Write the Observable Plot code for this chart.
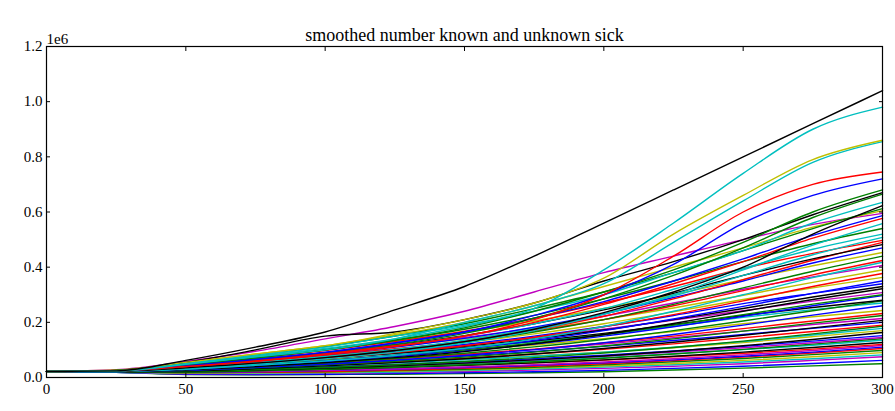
<!DOCTYPE html>
<html>
<head>
<meta charset="utf-8">
<script src="https://cdn.jsdelivr.net/npm/d3@7"></script>
<script src="https://cdn.jsdelivr.net/npm/@observablehq/plot@0.6"></script>
<style>
  html, body { margin: 0; padding: 0; background: #fff; }
  #chart { width: 895px; height: 411px; }
  #chart svg text { font-family: 'Liberation Serif', 'Times New Roman', serif; }
</style>
</head>
<body>
<div id="chart"></div>
<script>
// Chart text
const title = "smoothed number known and unknown sick";
const yOffsetLabel = "1e6";

// Tick values
const xTicks = [0, 50, 100, 150, 200, 250, 300];
const yTicks = [0.0, 0.2, 0.4, 0.6, 0.8, 1.0, 1.2];

const days = [0, 25, 50, 75, 100, 125, 150, 175, 200, 225, 250, 275, 300];

// Colour code of each series (matplotlib classic cycle letters)
const seriesColorCodes = [
  "k","c","y","c",
  "r","b","g","k","g","c","k","g","y","m","b","r","c","g","c","c","r","k","r","b","y","g","r","c","m",
  "y","r","y","b","b","k","k","m","g","b","k","g","c","b","y","r","g","m","k","b","r","g","c","y",
  "k","b","m","g","c","k","r","m","b","r","g","y","c","m","b","g"
];

// Series values, in millions, at the sample days
const seriesValues = [
  [0.022,0.024,0.062,0.110,0.165,0.245,0.330,0.440,0.560,0.680,0.800,0.920,1.040],
  [0.022,0.024,0.050,0.080,0.110,0.150,0.190,0.250,0.390,0.560,0.740,0.900,0.980],
  [0.022,0.025,0.055,0.085,0.115,0.160,0.210,0.270,0.360,0.520,0.660,0.790,0.860],
  [0.022,0.024,0.048,0.075,0.100,0.140,0.200,0.260,0.340,0.490,0.640,0.780,0.855],
  [0.022,0.024,0.040,0.060,0.085,0.115,0.150,0.210,0.300,0.440,0.600,0.700,0.745],
  [0.022,0.024,0.042,0.065,0.090,0.125,0.165,0.225,0.300,0.410,0.560,0.660,0.720],
  [0.022,0.025,0.045,0.070,0.100,0.135,0.180,0.240,0.310,0.390,0.490,0.600,0.680],
  [0.022,0.026,0.055,0.100,0.150,0.165,0.210,0.270,0.350,0.420,0.500,0.590,0.670],
  [0.022,0.024,0.040,0.062,0.088,0.120,0.160,0.215,0.285,0.370,0.470,0.580,0.665],
  [0.022,0.025,0.048,0.075,0.105,0.140,0.185,0.240,0.300,0.380,0.460,0.560,0.635],
  [0.022,0.023,0.035,0.052,0.072,0.098,0.130,0.175,0.235,0.310,0.400,0.520,0.623],
  [0.022,0.026,0.050,0.080,0.112,0.150,0.195,0.250,0.310,0.380,0.460,0.540,0.612],
  [0.022,0.027,0.055,0.085,0.115,0.155,0.200,0.260,0.330,0.400,0.470,0.545,0.605],
  [0.022,0.028,0.058,0.095,0.140,0.185,0.240,0.310,0.380,0.440,0.500,0.555,0.595],
  [0.022,0.024,0.042,0.066,0.092,0.125,0.165,0.215,0.275,0.350,0.430,0.515,0.587],
  [0.022,0.023,0.038,0.058,0.082,0.112,0.150,0.200,0.265,0.340,0.420,0.505,0.577],
  [0.022,0.022,0.032,0.048,0.068,0.092,0.125,0.170,0.230,0.300,0.390,0.480,0.558],
  [0.022,0.025,0.045,0.072,0.100,0.135,0.175,0.225,0.285,0.350,0.420,0.485,0.540],
  [0.022,0.024,0.040,0.062,0.086,0.115,0.150,0.195,0.250,0.320,0.395,0.465,0.520],
  [0.022,0.023,0.036,0.055,0.076,0.102,0.135,0.178,0.230,0.295,0.370,0.445,0.508],
  [0.022,0.025,0.046,0.072,0.098,0.130,0.168,0.215,0.270,0.330,0.395,0.450,0.497],
  [0.022,0.024,0.042,0.064,0.088,0.118,0.152,0.195,0.245,0.305,0.370,0.430,0.482],
  [0.022,0.023,0.034,0.052,0.074,0.100,0.132,0.172,0.222,0.285,0.355,0.425,0.490],
  [0.022,0.024,0.040,0.060,0.082,0.110,0.142,0.182,0.230,0.290,0.350,0.415,0.470],
  [0.022,0.026,0.050,0.076,0.102,0.132,0.165,0.205,0.250,0.300,0.355,0.405,0.453],
  [0.022,0.023,0.036,0.054,0.074,0.098,0.128,0.165,0.210,0.265,0.325,0.385,0.440],
  [0.022,0.024,0.040,0.060,0.080,0.104,0.132,0.168,0.210,0.260,0.315,0.372,0.424],
  [0.022,0.022,0.030,0.044,0.060,0.080,0.106,0.140,0.185,0.240,0.300,0.362,0.418],
  [0.022,0.025,0.045,0.068,0.090,0.115,0.145,0.180,0.222,0.270,0.320,0.365,0.406],
  [0.022,0.025,0.044,0.066,0.088,0.112,0.140,0.172,0.210,0.252,0.298,0.345,0.390],
  [0.022,0.023,0.034,0.050,0.068,0.090,0.115,0.146,0.184,0.228,0.278,0.330,0.377],
  [0.022,0.024,0.040,0.058,0.078,0.100,0.126,0.158,0.195,0.238,0.283,0.325,0.363],
  [0.022,0.022,0.030,0.044,0.060,0.080,0.104,0.134,0.170,0.212,0.258,0.305,0.350],
  [0.022,0.024,0.038,0.056,0.075,0.096,0.120,0.150,0.185,0.225,0.268,0.305,0.340],
  [0.022,0.023,0.036,0.053,0.070,0.090,0.113,0.140,0.172,0.210,0.250,0.292,0.330],
  [0.022,0.022,0.028,0.040,0.054,0.072,0.094,0.122,0.156,0.196,0.240,0.283,0.322],
  [0.022,0.024,0.040,0.058,0.076,0.096,0.118,0.145,0.175,0.208,0.242,0.277,0.308],
  [0.022,0.023,0.032,0.046,0.062,0.080,0.100,0.125,0.155,0.190,0.228,0.266,0.300],
  [0.022,0.022,0.030,0.043,0.058,0.075,0.096,0.121,0.150,0.184,0.222,0.260,0.297],
  [0.022,0.024,0.038,0.054,0.070,0.088,0.108,0.132,0.160,0.192,0.225,0.254,0.280],
  [0.022,0.022,0.028,0.040,0.053,0.069,0.088,0.111,0.138,0.170,0.205,0.242,0.278],
  [0.022,0.024,0.036,0.052,0.068,0.086,0.106,0.129,0.156,0.186,0.218,0.246,0.270],
  [0.022,0.022,0.026,0.036,0.048,0.062,0.080,0.101,0.126,0.156,0.190,0.226,0.260],
  [0.022,0.024,0.036,0.050,0.064,0.080,0.098,0.118,0.141,0.167,0.195,0.220,0.243],
  [0.022,0.023,0.030,0.042,0.054,0.068,0.084,0.103,0.125,0.150,0.177,0.205,0.232],
  [0.022,0.022,0.026,0.035,0.046,0.059,0.074,0.092,0.114,0.140,0.168,0.197,0.225],
  [0.022,0.023,0.032,0.044,0.056,0.069,0.084,0.101,0.121,0.144,0.168,0.192,0.214],
  [0.022,0.021,0.024,0.032,0.042,0.054,0.068,0.085,0.105,0.128,0.153,0.180,0.207],
  [0.022,0.023,0.030,0.040,0.051,0.064,0.078,0.094,0.113,0.134,0.156,0.178,0.200],
  [0.022,0.022,0.027,0.036,0.046,0.057,0.070,0.085,0.102,0.122,0.144,0.167,0.190],
  [0.022,0.021,0.022,0.028,0.036,0.046,0.058,0.072,0.089,0.109,0.132,0.158,0.186],
  [0.022,0.022,0.026,0.034,0.043,0.053,0.064,0.077,0.092,0.110,0.130,0.154,0.178],
  [0.022,0.023,0.028,0.036,0.045,0.055,0.066,0.078,0.092,0.108,0.127,0.148,0.170],
  [0.022,0.021,0.022,0.027,0.034,0.042,0.052,0.064,0.078,0.095,0.115,0.138,0.163],
  [0.022,0.022,0.025,0.031,0.038,0.047,0.057,0.068,0.081,0.096,0.113,0.132,0.152],
  [0.022,0.022,0.024,0.029,0.036,0.044,0.053,0.064,0.077,0.092,0.108,0.126,0.145],
  [0.022,0.021,0.020,0.024,0.030,0.037,0.046,0.057,0.070,0.085,0.102,0.121,0.141],
  [0.022,0.022,0.024,0.029,0.035,0.042,0.050,0.060,0.072,0.086,0.101,0.117,0.135],
  [0.022,0.021,0.021,0.025,0.030,0.036,0.044,0.053,0.064,0.077,0.092,0.109,0.127],
  [0.022,0.022,0.023,0.027,0.032,0.038,0.045,0.053,0.063,0.075,0.088,0.103,0.120],
  [0.022,0.021,0.020,0.022,0.026,0.031,0.038,0.046,0.056,0.068,0.082,0.098,0.116],
  [0.022,0.021,0.019,0.021,0.025,0.030,0.036,0.044,0.053,0.064,0.077,0.092,0.110],
  [0.022,0.021,0.018,0.019,0.022,0.027,0.033,0.041,0.050,0.061,0.074,0.089,0.105],
  [0.022,0.021,0.018,0.019,0.021,0.025,0.030,0.037,0.046,0.057,0.069,0.083,0.098],
  [0.022,0.021,0.017,0.017,0.019,0.023,0.028,0.034,0.042,0.051,0.062,0.075,0.090],
  [0.022,0.020,0.015,0.015,0.017,0.020,0.025,0.031,0.038,0.046,0.056,0.068,0.082],
  [0.022,0.020,0.014,0.014,0.015,0.018,0.022,0.027,0.033,0.041,0.050,0.062,0.075],
  [0.022,0.019,0.012,0.011,0.012,0.014,0.017,0.021,0.026,0.033,0.041,0.051,0.062],
  [0.022,0.019,0.011,0.010,0.011,0.012,0.014,0.017,0.021,0.027,0.034,0.042,0.050]
];

// Style: matplotlib classic colour cycle
const palette = {b: "#0000ff", g: "#008000", r: "#ff0000", c: "#00bfbf", m: "#bf00bf", y: "#bfbf00", k: "#000000"};

// Long table for the line mark
const rows = [];
seriesValues.forEach((vals, i) => {
  vals.forEach((v, j) => rows.push({id: i, day: days[j], value: v, color: palette[seriesColorCodes[i]]}));
});
// draw low series first, top series last
const drawOrder = d3.range(seriesValues.length).reverse();
const ordered = drawOrder.flatMap(i => rows.filter(r => r.id === i));

const font = "'Liberation Serif', 'Times New Roman', serif";

const chart = Plot.plot({
  width: 895,
  height: 411,
  marginLeft: 46,
  marginRight: 13,
  marginTop: 46,
  marginBottom: 34,
  x: {domain: [0, 300], label: null},
  y: {domain: [0, 1.2], label: null},
  style: {fontFamily: font, fontSize: "15px", background: "#fff", color: "#000", overflow: "visible"},
  marks: [
    Plot.line(ordered, {x: "day", y: "value", z: "id", stroke: "color", strokeWidth: 1.4, curve: "monotone-x"}),
    Plot.frame({stroke: "#000", strokeWidth: 1.2}),
    // inward ticks on all four sides
    Plot.axisX(xTicks, {anchor: "bottom", tickSize: -4, tickFormat: () => "", stroke: "#000", label: null}),
    Plot.axisX(xTicks, {anchor: "top", tickSize: -4, tickFormat: () => "", stroke: "#000", label: null}),
    Plot.axisY(yTicks, {anchor: "left", tickSize: -4, tickFormat: () => "", stroke: "#000", label: null}),
    Plot.axisY(yTicks, {anchor: "right", tickSize: -4, tickFormat: () => "", stroke: "#000", label: null}),
    // tick labels
    Plot.axisX(xTicks, {anchor: "bottom", tickSize: 0, tickPadding: 6, tickFormat: d3.format("d"), label: null, fill: "#000", fontSize: 15, fontFamily: font}),
    Plot.axisY(yTicks, {anchor: "left", tickSize: 0, tickPadding: 4, tickFormat: d3.format(".1f"), label: null, fill: "#000", fontSize: 15, fontFamily: font}),
    // offset label and title
    Plot.text([yOffsetLabel], {frameAnchor: "top-left", textAnchor: "start", lineAnchor: "bottom", dy: -3, fontSize: 15, fill: "#000", fontFamily: font}),
    Plot.text([title], {frameAnchor: "top", lineAnchor: "bottom", dy: -6, fontSize: 18, fill: "#000", fontFamily: font})
  ]
});
document.getElementById("chart").appendChild(chart);
</script>
</body>
</html>
